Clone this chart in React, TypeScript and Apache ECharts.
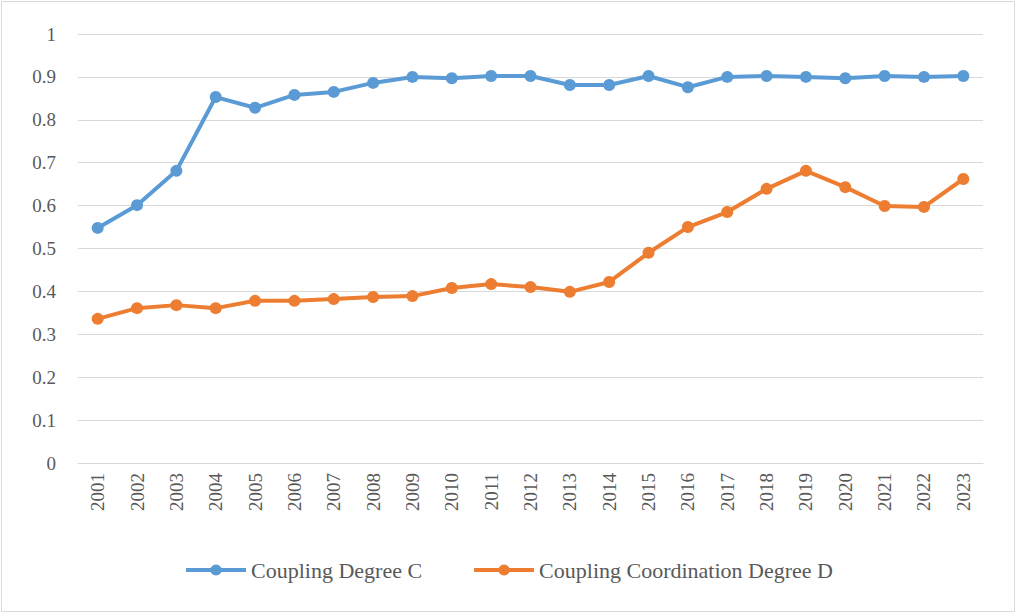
import React, { useRef, useEffect } from 'react'
import * as echarts from 'echarts'

const years = [
  '2001', '2002', '2003', '2004', '2005', '2006', '2007', '2008', '2009', '2010', '2011', '2012',
  '2013', '2014', '2015', '2016', '2017', '2018', '2019', '2020', '2021', '2022', '2023',
]
const couplingC = [
  0.548, 0.601, 0.681, 0.853, 0.828, 0.858, 0.865, 0.886, 0.9, 0.897, 0.902, 0.902,
  0.881, 0.881, 0.902, 0.876, 0.9, 0.902, 0.9, 0.897, 0.902, 0.9, 0.902,
]
const coordinationD = [
  0.336, 0.361, 0.368, 0.361, 0.378, 0.378, 0.382, 0.387, 0.389, 0.408, 0.417, 0.41,
  0.399, 0.422, 0.49, 0.55, 0.585, 0.639, 0.681, 0.643, 0.599, 0.597, 0.662,
]

const font = 'Liberation Serif'

export default function App() {
  const ref = useRef<HTMLDivElement>(null)

  useEffect(() => {
    if (!ref.current) return
    const chart = echarts.init(ref.current, undefined, { renderer: 'svg' })
    const line = (name: string, data: number[], color: string) => ({
      name,
      type: 'line' as const,
      data,
      symbol: 'circle',
      symbolSize: 12,
      lineStyle: { color, width: 4 },
      itemStyle: { color },
    })
    chart.setOption({
      animation: false,
      textStyle: { fontFamily: font },
      graphic: [
        {
          type: 'rect',
          shape: { x: 1.5, y: 1.5, width: 1013, height: 610 },
          style: { fill: 'none', stroke: '#d9d9d9', lineWidth: 1 },
        },
      ],
      grid: { left: 78, right: 34, top: 34, bottom: 151 },
      legend: {
        bottom: 28,
        left: 'center',
        itemWidth: 60,
        itemHeight: 14,
        itemGap: 50,
        lineStyle: { width: 4 },
        textStyle: { fontFamily: font, fontSize: 22, color: '#595959' },
        data: ['Coupling Degree C', 'Coupling Coordination Degree D'],
      },
      xAxis: {
        type: 'category',
        data: years,
        boundaryGap: true,
        axisLine: { lineStyle: { color: '#d9d9d9' } },
        axisTick: { show: false },
        axisLabel: { rotate: 90, color: '#595959', fontSize: 19, fontFamily: font, margin: 10 },
      },
      yAxis: {
        type: 'value',
        min: 0,
        max: 1,
        interval: 0.1,
        axisLine: { show: false },
        axisTick: { show: false },
        splitLine: { lineStyle: { color: '#d9d9d9' } },
        axisLabel: { color: '#595959', fontSize: 19, fontFamily: font, margin: 22 },
      },
      series: [
        line('Coupling Degree C', couplingC, '#5b9bd5'),
        line('Coupling Coordination Degree D', coordinationD, '#ed7d31'),
      ],
    })
    return () => chart.dispose()
  }, [])

  return (
    <div
      ref={ref}
      style={{ position: 'absolute', left: 0, top: 0, width: 1017, height: 614, background: '#fff' }}
    />
  )
}
